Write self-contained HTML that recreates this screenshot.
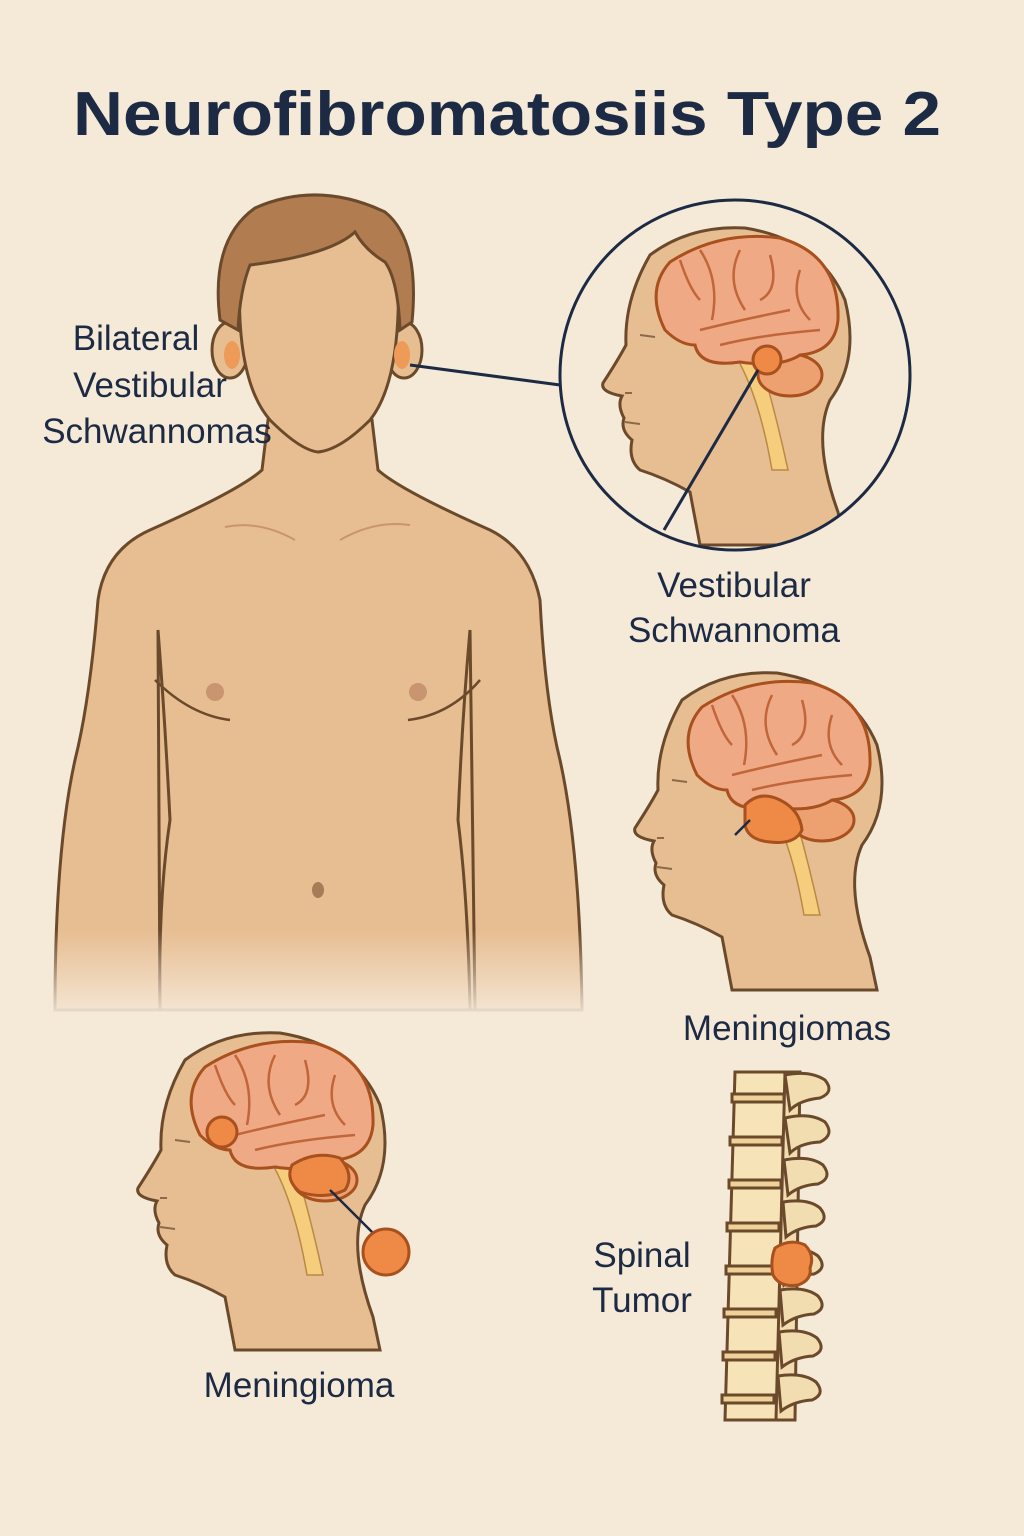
<!DOCTYPE html>
<html><head><meta charset="utf-8"><style>
html,body{margin:0;padding:0;background:#f5e9d8;}
svg{display:block}
text{font-family:"Liberation Sans",sans-serif;fill:#1d2a44}
</style></head><body>
<svg width="1024" height="1536" viewBox="0 0 1024 1536" xmlns="http://www.w3.org/2000/svg">
<defs>
<clipPath id="cc"><circle cx="735" cy="375" r="174"/></clipPath>
<linearGradient id="fade" x1="0" y1="0" x2="0" y2="1">
<stop offset="0" stop-color="#f5e9d8" stop-opacity="0"/>
<stop offset="1" stop-color="#f5e9d8" stop-opacity="1"/>
</linearGradient>
<g id="head">
<path d="M700,545 L690,492 Q665,478 640,470 Q628,460 632,440 Q620,430 624,418 Q617,405 622,396 Q600,392 603,383 Q618,360 626,345 Q624,300 650,255 Q690,225 745,228 Q820,240 845,300 Q860,360 830,400 Q812,440 838,512 L845,545 Z" fill="#e7bd92" stroke="#6b4a2c" stroke-width="3"/>
<path d="M738,360 Q760,400 772,470 L788,470 Q775,410 760,360 Z" fill="#f6cd7c" stroke="#b98a45" stroke-width="1.5"/>
<ellipse cx="790" cy="375" rx="32" ry="21" fill="#eda070" stroke="#a8501e" stroke-width="3"/>
<path d="M665,330 Q645,290 670,262 Q720,230 780,238 Q840,255 838,320 Q835,352 800,355 Q780,368 740,362 Q700,368 695,345 Q680,345 665,330 Z" fill="#f0a985" stroke="#a8501e" stroke-width="3"/>
<path d="M680,260 Q690,290 700,300 M700,250 Q720,280 712,320 M740,250 Q725,280 745,310 M770,255 Q780,290 760,300 M800,270 Q790,300 810,320 M700,330 Q740,320 790,310 M720,345 Q760,335 820,330" fill="none" stroke="#c0663a" stroke-width="2.5"/>
<path d="M640,335 L655,337 M625,393 L632,393 M625,422 L640,424" stroke="#8b6a4a" stroke-width="2"/>
</g>
</defs>

<text x="507" y="135" font-size="62" font-weight="bold" text-anchor="middle" textLength="868" lengthAdjust="spacingAndGlyphs">Neurofibromatosiis Type 2</text>

<!-- body -->
<g stroke="#6b4a2c" stroke-width="3" fill="#e7bd92">
<path d="M268,420 L262,470 Q240,490 150,530 Q105,550 98,600 Q90,700 75,760 Q55,850 55,1010 L160,1010 Q158,900 170,820 Q165,720 158,630 L160,1010 L475,1010 L470,630 Q462,720 458,820 Q468,900 470,1010 L582,1010 Q580,850 560,760 Q545,700 540,600 Q530,550 490,530 Q400,490 378,470 L372,420 Z"/>
<ellipse cx="230" cy="350" rx="18" ry="28"/>
<ellipse cx="404" cy="350" rx="18" ry="28"/>
<path d="M240,270 Q235,380 270,420 Q300,450 318,452 Q340,450 370,420 Q402,380 398,270 Q390,220 318,218 Q245,220 240,270 Z"/>
</g>
<ellipse cx="232" cy="355" rx="8" ry="14" fill="#ee9a58"/>
<ellipse cx="402" cy="355" rx="8" ry="14" fill="#ee9a58"/>
<path d="M220,320 Q210,240 255,208 Q318,180 385,212 Q420,240 412,322 L400,330 Q398,280 385,262 Q365,250 355,232 Q330,255 250,265 Q240,290 238,330 Z" fill="#b07c50" stroke="#6b4a2c" stroke-width="3"/>
<path d="M225,527 Q260,520 295,540 M340,540 Q375,520 410,525" fill="none" stroke="#c9966a" stroke-width="2"/>
<path d="M155,680 Q190,715 230,720 M408,720 Q450,715 480,680" fill="none" stroke="#6b4a2c" stroke-width="2.5"/>
<circle cx="215" cy="692" r="9" fill="#c99470"/>
<circle cx="418" cy="692" r="9" fill="#c99470"/>
<ellipse cx="318" cy="890" rx="6" ry="8" fill="#a67b58"/>
<rect x="40" y="930" width="560" height="90" fill="url(#fade)"/>

<text x="136" y="350" font-size="35" text-anchor="middle">Bilateral</text>
<text x="150" y="397" font-size="35" text-anchor="middle">Vestibular</text>
<text x="157" y="443" font-size="35" text-anchor="middle">Schwannomas</text>

<line x1="410" y1="365" x2="560" y2="385" stroke="#1d2a44" stroke-width="3"/>

<!-- inset circle -->
<circle cx="735" cy="375" r="175" fill="#f5e9d8"/>
<g clip-path="url(#cc)"><use href="#head"/></g>
<circle cx="735" cy="375" r="175" fill="none" stroke="#1d2a44" stroke-width="3"/>
<circle cx="767" cy="360" r="14" fill="#ee8a45" stroke="#a8501e" stroke-width="3"/>
<line x1="758" y1="370" x2="664" y2="530" stroke="#1d2a44" stroke-width="3"/>
<text x="734" y="597" font-size="35" text-anchor="middle">Vestibular</text>
<text x="734" y="642" font-size="35" text-anchor="middle">Schwannoma</text>

<!-- head 2 -->
<g transform="translate(32,445)"><use href="#head"/></g>
<path d="M745,805 Q760,790 780,800 Q800,810 802,830 Q795,845 770,842 Q748,840 745,825 Z" fill="#ee8a45" stroke="#a8501e" stroke-width="3"/>
<line x1="750" y1="820" x2="735" y2="835" stroke="#1d2a44" stroke-width="2.5"/>
<text x="787" y="1040" font-size="35" text-anchor="middle">Meningiomas</text>

<!-- head 3 -->
<g transform="translate(-465,805)"><use href="#head"/></g>
<circle cx="222" cy="1132" r="15" fill="#ee8a45" stroke="#a8501e" stroke-width="3"/>
<path d="M292,1165 Q315,1150 340,1158 Q355,1175 345,1190 Q325,1200 300,1192 Q285,1180 292,1165 Z" fill="#ee8a45" stroke="#a8501e" stroke-width="3"/>
<line x1="330" y1="1190" x2="375" y2="1235" stroke="#1d2a44" stroke-width="2.5"/>
<circle cx="386" cy="1252" r="23" fill="#ee8a45" stroke="#a8501e" stroke-width="3"/>
<text x="299" y="1397" font-size="35" text-anchor="middle">Meningioma</text>

<!-- spine -->
<g stroke="#6b4a2c" stroke-width="3" fill="#f6e4b8">
<path d="M780,1072 L800,1072 L795,1420 L775,1420 Z" fill="#f2dcb0"/>
<path d="M735,1072 L785,1072 L776,1420 L725,1420 Z" fill="#f6e4b8"/>
</g>
<g stroke="#6b4a2c" stroke-width="3" fill="#f2ddb0">
<path d="M785,1075 Q810,1070 825,1080 Q835,1092 820,1098 Q800,1100 790,1110 Z"/>
<path d="M785,1118 Q810,1112 825,1122 Q835,1135 820,1142 Q800,1143 790,1153 Z"/>
<path d="M784,1160 Q810,1155 823,1165 Q833,1178 818,1184 Q800,1185 788,1195 Z"/>
<path d="M783,1202 Q808,1198 820,1208 Q830,1220 816,1226 Q798,1227 786,1237 Z"/>
<path d="M781,1250 Q805,1246 818,1256 Q828,1268 814,1274 Q796,1275 784,1285 Z"/>
<path d="M780,1290 Q805,1286 818,1296 Q828,1308 814,1314 Q796,1315 783,1325 Z"/>
<path d="M779,1332 Q804,1328 817,1338 Q827,1350 813,1356 Q795,1357 782,1367 Z"/>
<path d="M778,1376 Q803,1372 816,1382 Q826,1394 812,1400 Q794,1401 781,1411 Z"/>
</g>
<g fill="#efd19a" stroke="#6b4a2c" stroke-width="3">
<rect x="732" y="1094" width="52" height="8"/>
<rect x="730" y="1137" width="52" height="8"/>
<rect x="729" y="1180" width="52" height="8"/>
<rect x="727" y="1223" width="52" height="8"/>
<rect x="726" y="1266" width="52" height="8"/>
<rect x="724" y="1309" width="52" height="8"/>
<rect x="723" y="1352" width="52" height="8"/>
<rect x="722" y="1395" width="52" height="8"/>
</g>
<path d="M775,1248 Q790,1238 805,1245 Q815,1255 810,1268 Q812,1280 798,1285 Q780,1288 773,1275 Q770,1260 775,1248 Z" fill="#ee8a45" stroke="#a8501e" stroke-width="3"/>
<text x="642" y="1267" font-size="35" text-anchor="middle">Spinal</text>
<text x="642" y="1312" font-size="35" text-anchor="middle">Tumor</text>
</svg>
</body></html>
